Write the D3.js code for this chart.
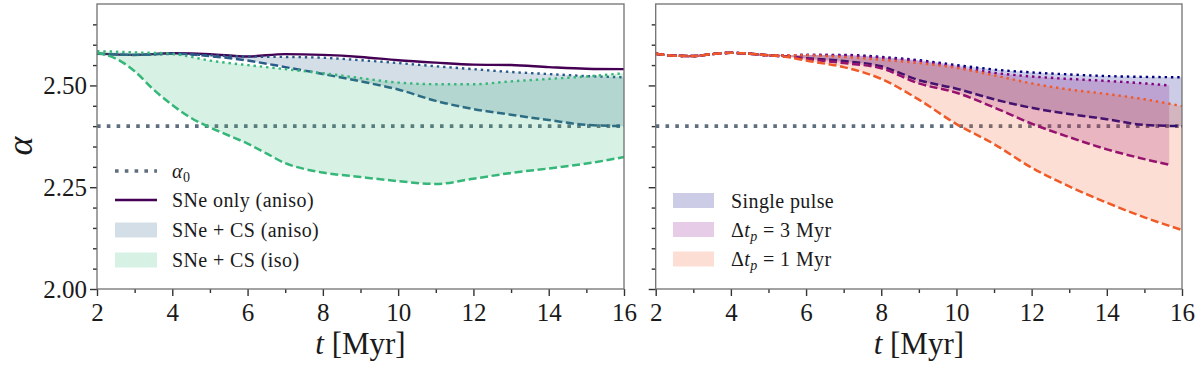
<!DOCTYPE html>
<html><head><meta charset="utf-8">
<script src="https://cdn.jsdelivr.net/npm/d3@7"></script>
<style>
body{margin:0;background:#fff}
svg{display:block}
text{font-family:"Liberation Serif","DejaVu Serif",serif;fill:#1a1a1a}
</style>
</head><body>
<svg id="c" width="1200" height="366"></svg>
<script>
// ---------- data ----------
const alpha0 = 2.40;
const xTicks = [2,4,6,8,10,12,14,16];
const xMinor = [3,5,7,9,11,13,15];
const yTicks = [2.00,2.25,2.50];
const yMinor = [2.05,2.10,2.15,2.20,2.30,2.35,2.40,2.45,2.55,2.60,2.65];

// left panel
const tL = [2,3,4,5,6,7,8,9,10,11,12,13,14,15,16];
const sneOnly   = [2.578,2.575,2.579,2.577,2.571,2.577,2.575,2.570,2.562,2.556,2.551,2.550,2.545,2.541,2.540];
const anisoUp   = [2.578,2.575,2.577,2.574,2.571,2.570,2.568,2.562,2.555,2.547,2.540,2.533,2.528,2.523,2.520];
const anisoLo   = [2.578,2.575,2.578,2.572,2.561,2.545,2.528,2.510,2.490,2.462,2.442,2.428,2.415,2.403,2.400];
const tIso = [2,2.5,3,3.5,4,4.5,5,5.5,6,6.5,7,7.5,8,9,10,11,12,13,14,15,16];
const isoUp = [2.584,2.583,2.581,2.580,2.578,2.570,2.561,2.555,2.550,2.545,2.540,2.535,2.530,2.518,2.507,2.503,2.503,2.510,2.516,2.522,2.530];
const isoLo = [2.580,2.566,2.535,2.490,2.452,2.420,2.397,2.377,2.357,2.333,2.309,2.295,2.286,2.275,2.265,2.258,2.271,2.285,2.296,2.308,2.324];

// right panel
const tR  = [2,2.5,3,3.5,4,4.5,5,5.5,6,7,8,9,10,11,12,13,14,15,16];
const tR3 = [2,2.5,3,3.5,4,4.5,5,5.5,6,7,8,9,10,11,12,13,14,15,15.66];
const singleUp = [2.578,2.573,2.572,2.577,2.580,2.578,2.574,2.574,2.575,2.575,2.570,2.562,2.550,2.539,2.532,2.527,2.523,2.521,2.520];
const singleLo = [2.578,2.573,2.572,2.577,2.580,2.578,2.574,2.571,2.567,2.560,2.547,2.513,2.492,2.466,2.445,2.430,2.417,2.403,2.400];
const dt3Up    = [2.578,2.573,2.572,2.577,2.580,2.578,2.574,2.574,2.575,2.574,2.568,2.560,2.546,2.531,2.522,2.516,2.511,2.505,2.500];
const dt3Lo    = [2.578,2.573,2.572,2.577,2.580,2.578,2.574,2.571,2.565,2.555,2.542,2.505,2.482,2.446,2.406,2.373,2.343,2.319,2.305];
const dt1Up    = [2.578,2.573,2.572,2.577,2.580,2.578,2.574,2.574,2.574,2.570,2.563,2.555,2.543,2.525,2.505,2.490,2.479,2.466,2.449];
const dt1Lo    = [2.578,2.573,2.572,2.577,2.580,2.578,2.574,2.570,2.561,2.545,2.516,2.465,2.405,2.356,2.298,2.252,2.212,2.176,2.145];

// ---------- drawing ----------
const svg = d3.select("#c");
const C = {grey:"#5f6e7f", purple:"#440154", blue:"#2a5b88", green:"#35b779",
           navy:"#000080", magenta:"#800080", orange:"#f05a28"};
const yTop = 4, yBot = 289;
const FONT_TICK = 25;

function panel(x0, x1, showY){
  const x = d3.scaleLinear().domain([2,16]).range([x0,x1]);
  const y = d3.scaleLinear().domain([2.0,2.7]).range([yBot,yTop]);
  const g = svg.append("g");
  const ax = g.append("g").attr("transform",`translate(0,${yBot})`);
  ax.call(d3.axisBottom(x).tickValues(xTicks).tickSize(7).tickPadding(7).tickFormat(d3.format("d")));
  ax.append("g").call(d3.axisBottom(x).tickValues(xMinor).tickSize(4).tickFormat(""));
  const ay = g.append("g").attr("transform",`translate(${x0},0)`);
  ay.call(d3.axisLeft(y).tickValues(yTicks).tickSize(7).tickPadding(3).tickFormat(showY?d3.format(".2f"):()=>""));
  ay.append("g").call(d3.axisLeft(y).tickValues(yMinor).tickSize(4).tickFormat(""));
  g.selectAll(".domain").remove();
  g.selectAll(".tick line").attr("stroke","#333").attr("stroke-width",1.4);
  g.selectAll(".tick text").style("font-size",FONT_TICK+"px").attr("fill","#1a1a1a");
  const plot = g.append("g");
  g.append("rect").attr("x",x0).attr("y",yTop).attr("width",x1-x0).attr("height",yBot-yTop)
    .attr("fill","none").attr("stroke","#707070").attr("stroke-width",1.3);
  const xl = g.append("text").attr("x",(x0+x1)/2).attr("y",354).attr("text-anchor","middle").style("font-size","31px");
  xl.append("tspan").style("font-style","italic").text("t");
  xl.append("tspan").text(" [Myr]");
  return {x,y,plot};
}

function lineOf(p, ts, vs, color, style){
  const data = ts.map((t,i)=>[t,vs[i]]);
  const gen = d3.line().x(d=>p.x(d[0])).y(d=>p.y(d[1])).curve(d3.curveMonotoneX);
  const path = p.plot.append("path").datum(data).attr("d",gen).attr("fill","none").attr("stroke",color);
  if(style==="dot") path.attr("stroke-width",2.4).attr("stroke-dasharray","2.4,3.9");
  else if(style==="dash") path.attr("stroke-width",2.5).attr("stroke-dasharray","8,3.6");
  else path.attr("stroke-width",2.4);
  return path;
}
function areaOf(p, ts, up, lo, color){
  const data = ts.map((t,i)=>[t,up[i],lo[i]]);
  const gen = d3.area().x(d=>p.x(d[0])).y0(d=>p.y(d[2])).y1(d=>p.y(d[1])).curve(d3.curveMonotoneX);
  p.plot.append("path").datum(data).attr("d",gen).attr("fill",color).attr("fill-opacity",0.2).attr("stroke","none");
}
function hline(p, v){
  p.plot.append("line").attr("x1",p.x(2)).attr("x2",p.x(16)).attr("y1",p.y(v)).attr("y2",p.y(v))
    .attr("stroke",C.grey).attr("stroke-width",3.6).attr("stroke-dasharray","3.6,6.2");
}

// left
const L = panel(97, 624, true);
hline(L, alpha0);
lineOf(L, tL, sneOnly, C.purple, "solid");
areaOf(L, tL, anisoUp, anisoLo, C.blue);
lineOf(L, tL, anisoUp, C.blue, "dot");
lineOf(L, tL, anisoLo, C.blue, "dash");
areaOf(L, tIso, isoUp, isoLo, C.green);
lineOf(L, tIso, isoUp, C.green, "dot");
lineOf(L, tIso, isoLo, C.green, "dash");

// right
const R = panel(655.7, 1182, false);
hline(R, alpha0);
areaOf(R, tR, singleUp, singleLo, C.navy);
lineOf(R, tR, singleUp, C.navy, "dot");
lineOf(R, tR, singleLo, C.navy, "dash");
areaOf(R, tR3, dt3Up, dt3Lo, C.magenta);
lineOf(R, tR3, dt3Up, C.magenta, "dot");
lineOf(R, tR3, dt3Lo, C.magenta, "dash");
areaOf(R, tR, dt1Up, dt1Lo, C.orange);
lineOf(R, tR, dt1Up, C.orange, "dot");
lineOf(R, tR, dt1Lo, C.orange, "dash");

// y label
svg.append("text").attr("transform","translate(20,146) rotate(-90)").attr("text-anchor","middle")
  .attr("dominant-baseline","central")
  .style("font-size","36px").style("font-style","italic").text("α");

// legends
const LEG_FS = "20px";
function legText(x, y, parts){
  const t = svg.append("text").attr("x",x).attr("y",y).attr("dy","0.35em")
    .style("font-size",LEG_FS).style("letter-spacing","0.4px");
  parts.forEach(p=>{
    const s = t.append("tspan").text(p.s);
    if(p.i) s.style("font-style","italic");
    if(p.sub) s.attr("baseline-shift","-25%").style("font-size","14px");
  });
}
// left legend
svg.append("line").attr("x1",115).attr("x2",157).attr("y1",171).attr("y2",171)
  .attr("stroke",C.grey).attr("stroke-width",3.6).attr("stroke-dasharray","3.6,6.2");
legText(172,171,[{s:"α",i:true},{s:"0",sub:true}]);
svg.append("line").attr("x1",115).attr("x2",157).attr("y1",200).attr("y2",200)
  .attr("stroke",C.purple).attr("stroke-width",2.4);
legText(172,200,[{s:"SNe only (aniso)"}]);
svg.append("rect").attr("x",115).attr("y",222.5).attr("width",42).attr("height",15).attr("fill",C.blue).attr("fill-opacity",0.2);
legText(172,230,[{s:"SNe + CS (aniso)"}]);
svg.append("rect").attr("x",115).attr("y",252.5).attr("width",42).attr("height",15).attr("fill",C.green).attr("fill-opacity",0.2);
legText(172,260,[{s:"SNe + CS (iso)"}]);
// right legend
const rItems = [
  {y:200.5,c:C.navy,parts:[{s:"Single pulse"}]},
  {y:229.5,c:C.magenta,parts:[{s:"Δ"},{s:"t",i:true},{s:"p",i:true,sub:true},{s:" = 3 Myr"}]},
  {y:259,c:C.orange,parts:[{s:"Δ"},{s:"t",i:true},{s:"p",i:true,sub:true},{s:" = 1 Myr"}]}
];
rItems.forEach(it=>{
  svg.append("rect").attr("x",673).attr("y",it.y-7.5).attr("width",41).attr("height",15).attr("fill",it.c).attr("fill-opacity",0.2);
  legText(731,it.y,it.parts);
});
</script>
</body></html>
